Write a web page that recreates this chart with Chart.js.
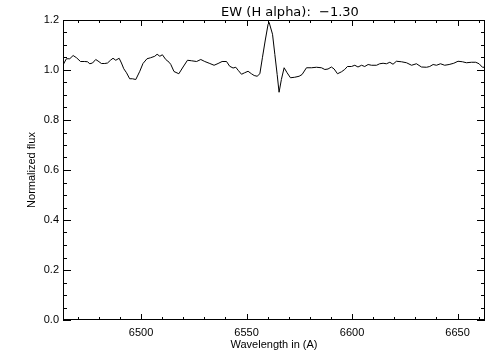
<!DOCTYPE html>
<html>
<head>
<meta charset="utf-8">
<script src="https://cdn.jsdelivr.net/npm/chart.js@4/dist/chart.umd.min.js"></script>
<style>
  body { margin: 0; background: #fff; }
  #wrap { width: 504px; height: 360px; }
</style>
</head>
<body>
<div id="wrap"><canvas id="chart" width="504" height="360"></canvas></div>
<script>
// spectrum around H alpha
const wavelength = [6463.0, 6464.6, 6466.2, 6467.8, 6469.4, 6471.3, 6473.3, 6474.6, 6475.7, 6477.0,
  6478.5, 6479.6, 6481.2, 6482.8, 6484.1, 6485.5, 6486.7, 6488.0, 6489.6, 6490.7,
  6491.8, 6493.1, 6494.6, 6495.9, 6497.5, 6499.4, 6500.9, 6502.8, 6504.5, 6506.5,
  6507.6, 6508.9, 6510.1, 6511.7, 6513.3, 6514.1, 6515.6, 6517.9, 6519.9, 6522.0,
  6523.9, 6526.3, 6528.3, 6530.2, 6532.6, 6534.6, 6536.5, 6538.4, 6540.5, 6542.0,
  6543.6, 6544.9, 6546.0, 6547.6, 6549.1, 6550.7, 6552.3, 6553.6, 6555.0, 6556.3,
  6557.5, 6558.8, 6560.2, 6560.7, 6562.3, 6563.4, 6564.5, 6565.4, 6566.5, 6567.8,
  6569.2, 6570.8, 6572.8, 6574.9, 6576.3, 6578.4, 6580.8, 6583.1, 6585.5, 6587.1,
  6588.6, 6590.2, 6591.5, 6593.1, 6595.0, 6596.5, 6597.8, 6599.7, 6601.3, 6602.8,
  6604.5, 6606.0, 6607.6, 6609.2, 6611.6, 6613.1, 6614.7, 6616.3, 6617.9, 6619.4,
  6621.0, 6623.4, 6625.8, 6628.2, 6630.5, 6632.9, 6635.3, 6636.8, 6638.4, 6640.0,
  6641.9, 6643.9, 6646.0, 6648.2, 6650.2, 6652.3, 6654.2, 6656.6, 6658.6, 6660.2,
  6661.8, 6663.0];
const flux = [1.020, 1.045, 1.045, 1.058, 1.049, 1.034, 1.034, 1.033, 1.025, 1.028,
  1.042, 1.036, 1.026, 1.026, 1.028, 1.039, 1.047, 1.039, 1.047, 1.028,
  1.005, 0.989, 0.965, 0.965, 0.962, 0.995, 1.026, 1.045, 1.049, 1.055,
  1.063, 1.055, 1.061, 1.042, 1.031, 1.022, 0.994, 0.985, 1.012, 1.039,
  1.037, 1.034, 1.042, 1.034, 1.026, 1.019, 1.026, 1.034, 1.034, 1.015,
  1.008, 1.011, 0.999, 0.983, 0.989, 0.995, 0.985, 0.978, 0.975, 0.985,
  1.049, 1.116, 1.183, 1.190, 1.143, 1.062, 0.982, 0.911, 0.962, 1.009,
  0.989, 0.969, 0.971, 0.975, 0.982, 1.009, 1.009, 1.011, 1.009, 1.002,
  1.004, 1.012, 1.004, 0.985, 0.993, 1.002, 1.014, 1.014, 1.019, 1.012,
  1.019, 1.014, 1.022, 1.019, 1.019, 1.025, 1.027, 1.025, 1.031, 1.023,
  1.035, 1.033, 1.029, 1.019, 1.025, 1.012, 1.011, 1.014, 1.022, 1.019,
  1.025, 1.019, 1.022, 1.027, 1.035, 1.033, 1.029, 1.031, 1.031, 1.025,
  1.011, 1.011];

const xTicks = [6500, 6550, 6600, 6650];
const yTicks = [0.0, 0.2, 0.4, 0.6, 0.8, 1.0, 1.2];
const xMinorStep = 10;
const yMinorStep = 0.05;
const titleText = "EW (H alpha):  \u22121.30";

const font = { family: "'Liberation Sans', Arial, sans-serif", size: 11 };

// IDL-style box with inward ticks on all four sides
const boxTicks = {
  id: "boxTicks",
  afterDraw(chart) {
    const { ctx, chartArea: a, scales: { x, y } } = chart;
    ctx.save();
    ctx.strokeStyle = "#000";
    ctx.lineWidth = 1;
    ctx.strokeRect(a.left + 0.5, a.top + 0.5, a.right - a.left - 1, a.bottom - a.top - 1);
    ctx.beginPath();
    const first = Math.ceil(x.min / xMinorStep) * xMinorStep;
    for (let v = first; v <= x.max; v += xMinorStep) {
      const px = Math.round(x.getPixelForValue(v)) + 0.5;
      const len = xTicks.includes(v) ? 6 : 3;
      ctx.moveTo(px, a.bottom); ctx.lineTo(px, a.bottom - len);
      ctx.moveTo(px, a.top); ctx.lineTo(px, a.top + len);
    }
    for (let i = 0; i * yMinorStep <= y.max + 1e-9; i++) {
      const v = i * yMinorStep;
      const py = Math.round(y.getPixelForValue(v)) + 0.5;
      const len = i % 4 === 0 ? 8 : 4;
      ctx.moveTo(a.left, py); ctx.lineTo(a.left + len, py);
      ctx.moveTo(a.right, py); ctx.lineTo(a.right - len, py);
    }
    ctx.stroke();
    // title over the plot
    ctx.fillStyle = "#000";
    ctx.font = "13px 'DejaVu Sans', sans-serif";
    ctx.textAlign = "center";
    ctx.textBaseline = "alphabetic";
    ctx.fillText(titleText, 290, 16);
    ctx.restore();
  }
};

new Chart(document.getElementById("chart").getContext("2d"), {
  type: "scatter",
  data: {
    datasets: [{
      data: wavelength.map((w, i) => ({ x: w, y: flux[i] })),
      showLine: true,
      borderColor: "#000",
      borderWidth: 1,
      pointRadius: 0,
      tension: 0,
    }],
  },
  options: {
    responsive: false,
    animation: false,
    layout: { padding: { top: 20, right: 19, left: 0, bottom: 0 } },
    plugins: { legend: { display: false }, tooltip: { enabled: false } },
    scales: {
      x: {
        type: "linear",
        min: 6463,
        max: 6663,
        afterBuildTicks: (s) => { s.ticks = xTicks.map((v) => ({ value: v })); },
        afterFit: (s) => { s.height = 40; },
        grid: { display: false, drawTicks: false },
        border: { display: false },
        ticks: { color: "#000", font, padding: 6, maxRotation: 0, callback: (v) => String(v) },
        title: { display: true, text: "Wavelength in (A)", color: "#000", font, padding: { bottom: 8 } },
      },
      y: {
        min: 0,
        max: 1.2,
        afterBuildTicks: (s) => { s.ticks = yTicks.map((v) => ({ value: v })); },
        afterFit: (s) => { s.width = 63; },
        grid: { display: false, drawTicks: false },
        border: { display: false },
        ticks: { color: "#000", font, padding: 4, callback: (v) => v.toFixed(1) },
        title: { display: true, text: "Normalized flux", color: "#000", font, padding: { top: 25 } },
      },
    },
  },
  plugins: [boxTicks],
});
</script>
</body>
</html>
